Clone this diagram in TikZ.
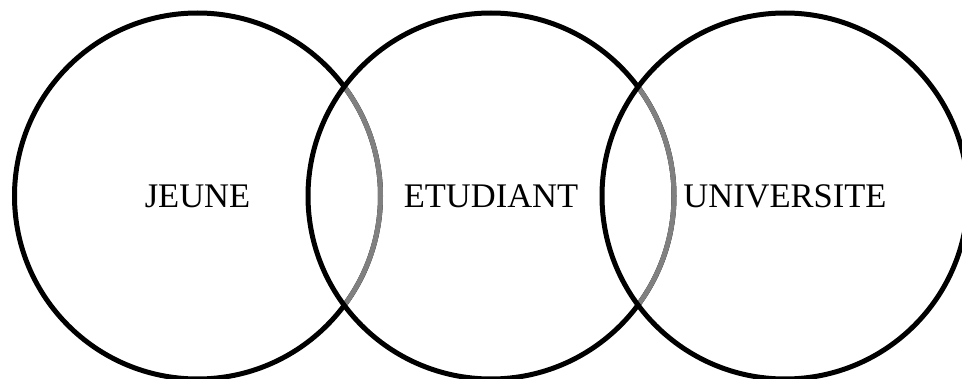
\documentclass[tikz,border=0pt]{standalone}
\usepackage{fontspec}
\setmainfont{Liberation Serif}
\usetikzlibrary{positioning}

\begin{document}
\begin{tikzpicture}[
    x=1pt, y=1pt,
    ring/.style={circle, draw, line width=5pt, minimum size=366pt, inner sep=0pt, outer sep=0pt, font=\fontsize{34.5}{40}\selectfont},
    overlap/.style={draw=black!50, line width=5pt},
]
\useasboundingbox (0,0) rectangle (962,378);
\clip (0,0) rectangle (962,378);

% Sets
\node[ring] (jeune) at (197.5,182) {JEUNE};
\draw[overlap] (jeune.-37) arc[start angle=-37, end angle=37, radius=183];
\node[ring] (etudiant) at (491,182) {ETUDIANT};
\draw[overlap] (etudiant.-37) arc[start angle=-37, end angle=37, radius=183];
\node[ring] (universite) at (785,182) {UNIVERSITE};
\end{tikzpicture}
\end{document}
